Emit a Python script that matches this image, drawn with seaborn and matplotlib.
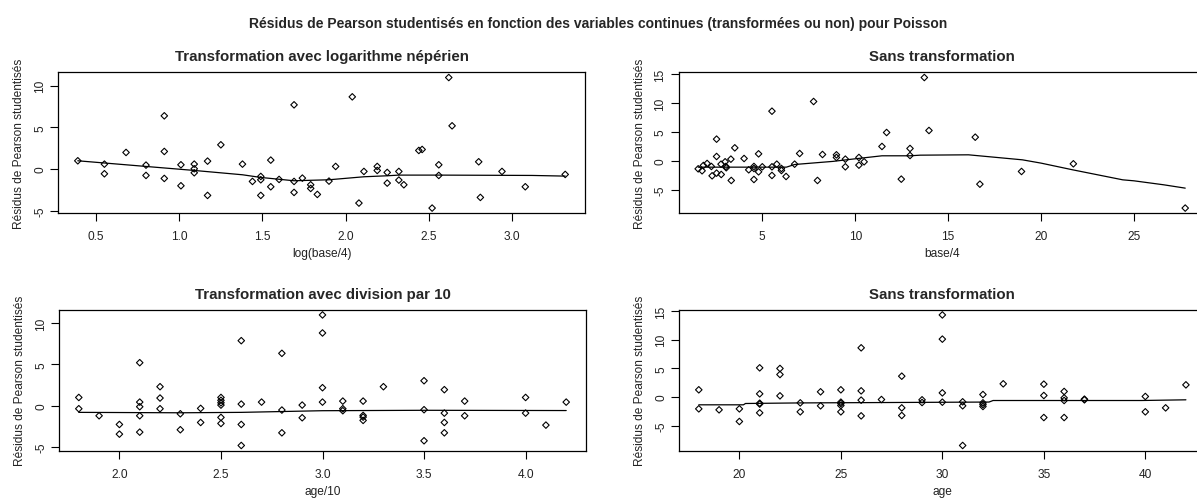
import numpy as np
import pandas as pd
import matplotlib
matplotlib.use("Agg")
import matplotlib.pyplot as plt
import seaborn as sns

# ---------------- data ----------------
# Panel 1 : log(base/4)
x1 = [0.39, 0.55, 0.55, 0.68, 0.80, 0.80, 0.91, 0.91, 0.91, 1.01, 1.01, 1.09, 1.09, 1.09,
      1.17, 1.17, 1.25, 1.38, 1.44, 1.49, 1.49, 1.49, 1.55, 1.55, 1.60, 1.69, 1.69, 1.69,
      1.74, 1.79, 1.79, 1.83, 1.90, 1.94, 2.04, 2.08, 2.11, 2.19, 2.19, 2.25, 2.25, 2.32,
      2.32, 2.35, 2.44, 2.46, 2.52, 2.56, 2.56, 2.62, 2.64, 2.80, 2.81, 2.94, 3.08, 3.32]
y1 = [1.0, 0.6, -0.56, 2.0, 0.48, -0.76, 6.4, 2.12, -1.12, 0.52, -2.0, 0.6, 0.04, -0.44,
      0.96, -3.16, 2.92, 0.6, -1.48, -0.88, -1.28, -3.16, 1.08, -2.12, -1.24, 7.72, -1.48, -2.8,
      -1.08, -1.88, -2.32, -3.04, -1.44, 0.32, 8.68, -4.08, -0.28, 0.32, -0.16, -0.4, -1.68, -0.28,
      -1.32, -1.88, 2.24, 2.36, -4.68, 0.52, -0.76, 11.0, 5.2, 0.88, -3.4, -0.28, -2.12, -0.64]
s1x = [0.39, 0.80, 1.09, 1.38, 1.49, 1.69, 1.90, 2.11, 2.25, 2.32, 2.56, 3.12, 3.32]
s1y = [1.0, 0.32, -0.16, -0.68, -1.0, -1.4, -1.28, -0.92, -0.8, -0.72, -0.72, -0.76, -0.84]

# Panel 2 : base/4
x2 = [1.55, 1.76, 1.83, 2.03, 2.26, 2.30, 2.54, 2.54, 2.54, 2.78, 2.79, 3.00, 3.04, 3.06,
      3.31, 3.33, 3.52, 4.02, 4.27, 4.55, 4.55, 4.55, 4.80, 4.80, 5.00, 5.52, 5.52, 5.52,
      5.78, 6.03, 6.03, 6.28, 6.74, 7.01, 7.76, 7.97, 8.24, 8.99, 8.99, 9.47, 9.47, 10.20,
      10.20, 10.48, 11.44, 11.69, 12.48, 12.95, 12.95, 13.72, 13.97, 16.46, 16.71, 18.95,
      21.74, 27.76]
y2 = [-1.39, -1.73, -0.81, -0.46, -0.98, -2.6, 3.76, 0.75, -2.14, -0.58, -2.37, -0.17, -0.98,
      -1.2, 0.29, -3.41, 2.25, 0.4, -1.56, -0.98, -1.33, -3.24, 1.21, -1.91, -1.04, 8.61, -1.04,
      -2.54, -0.58, -1.33, -1.68, -2.72, -0.58, 1.27, 10.29, -3.41, 1.1, 1.04, 0.58, 0.29, -1.04,
      0.58, -0.75, -0.17, 2.49, 4.91, -3.18, 2.14, 0.92, 14.45, 5.26, 4.1, -4.05, -1.85, -0.52,
      -8.2]
s2x = [1.55, 6.3, 6.74, 8.8, 10.0, 11.44, 12.95, 13.5, 16.1, 19.0, 20.0, 21.7, 22.6, 24.4,
       25.0, 26.6, 27.76]
s2y = [-1.1, -1.1, -0.64, -0.1, 0.35, 0.87, 0.87, 0.98, 1.04, 0.17, -0.4, -1.56, -2.14, -3.3,
       -3.47, -4.16, -4.74]

# Panel 3 : age/10
x3 = [1.8, 1.8, 1.9, 2.0, 2.0, 2.1, 2.1, 2.1, 2.1, 2.1, 2.2, 2.2, 2.2, 2.3, 2.3, 2.4, 2.4,
      2.5, 2.5, 2.5, 2.5, 2.5, 2.5, 2.6, 2.6, 2.6, 2.6, 2.7, 2.8, 2.8, 2.8, 2.9, 2.9, 3.0,
      3.0, 3.0, 3.0, 3.1, 3.1, 3.1, 3.2, 3.2, 3.2, 3.2, 3.3, 3.5, 3.5, 3.5, 3.6, 3.6, 3.6,
      3.6, 3.7, 3.7, 4.0, 4.0, 4.1, 4.2]
y3 = [1.0, -0.36, -1.21, -2.26, -3.43, 5.2, 0.44, -0.12, -1.21, -3.19, 2.3, 0.93, -0.36,
      -0.97, -2.9, -0.32, -2.02, 1.0, 0.65, 0.36, 0.08, -1.41, -2.14, 7.86, 0.2, -2.26, -4.8,
      0.44, 6.33, -0.52, -3.27, 0.08, -1.45, 10.97, 8.79, 2.18, 0.44, 0.56, -0.36, -0.6, 0.56,
      -1.17, -1.37, -1.77, 2.3, 3.02, -0.48, -4.23, 1.94, -0.89, -2.02, -3.27, 0.56, -1.21,
      1.0, -0.89, -2.34, 0.44]
s3x = [1.8, 2.3, 2.6, 2.8, 3.0, 3.5, 4.2]
s3y = [-0.8, -0.85, -0.8, -0.7, -0.6, -0.55, -0.58]

# Panel 4 : age
x4 = [18, 18, 19, 20, 20, 21, 21, 21, 21, 21, 22, 22, 22, 23, 23, 24, 24, 25, 25, 25, 25, 25,
      26, 26, 26, 26, 27, 28, 28, 28, 29, 29, 30, 30, 30, 30, 31, 31, 31, 32, 32, 32, 32, 33,
      35, 35, 35, 36, 36, 36, 36, 37, 37, 40, 40, 41, 42]
y4 = [1.28, -2.03, -2.2, -2.03, -4.23, 5.1, 0.58, -1.05, -1.2, -2.72, 4.99, 3.94, 0.23, -0.99,
      -2.55, 0.93, -1.5, 1.28, -0.87, -1.1, -1.45, -2.55, 8.58, 1.1, -0.52, -3.25, -0.41, 3.65,
      -1.86, -3.19, -0.46, -0.93, 14.3, 10.09, 0.75, -0.87, -0.81, -1.5, -8.4, 0.46, -0.99,
      -1.28, -1.62, 2.32, 2.26, 0.29, -3.54, 0.99, -0.12, -0.58, -3.54, -0.35, -0.46, 0.12,
      -2.55, -1.86, 2.14]
s4x = [18, 20.2, 20.3, 23, 32.3, 32.5, 39.8, 42]
s4y = [-1.33, -1.33, -1.1, -1.0, -0.85, -0.58, -0.58, -0.46]

suptitle = "Résidus de Pearson studentisés en fonction des variables continues (transformées ou non) pour Poisson"
titles = ["Transformation avec logarithme népérien", "Sans transformation",
          "Transformation avec division par 10", "Sans transformation"]
xlabels = ["log(base/4)", "base/4", "age/10", "age"]
ylabel = "Résidus de Pearson studentisés"
xticks = [[0.5, 1.0, 1.5, 2.0, 2.5, 3.0], [5, 10, 15, 20, 25],
          [2.0, 2.5, 3.0, 3.5, 4.0], [20, 25, 30, 35, 40]]
xtick_labels = [["0.5", "1.0", "1.5", "2.0", "2.5", "3.0"], ["5", "10", "15", "20", "25"],
                ["2.0", "2.5", "3.0", "3.5", "4.0"], ["20", "25", "30", "35", "40"]]
yticks = [[-5, 0, 5, 10], [-5, 0, 5, 10, 15], [-5, 0, 5, 10], [-5, 0, 5, 10, 15]]

# ---------------- figure ----------------
sns.set_style("white")
plt.rcParams["font.family"] = ["Liberation Sans", "DejaVu Sans"]

W, H = 1197, 502
fig = plt.figure(figsize=(W / 100, H / 100), dpi=100)
fig.patch.set_facecolor("white")

# axes boxes in pixels: left, top, right, bottom
boxes = [(58.3, 73.3, 584.7, 214.3), (678.7, 73.3, 1204.7, 214.3),
         (59.3, 310.7, 585.7, 451.7), (679.3, 310.7, 1205.4, 451.7)]

panels = [(x1, y1, s1x, s1y), (x2, y2, s2x, s2y), (x3, y3, s3x, s3y), (x4, y4, s4x, s4y)]

for i, ((xs, ys, sx, sy), (l, t, r, b)) in enumerate(zip(panels, boxes)):
    ax = fig.add_axes([l / W, 1 - b / H, (r - l) / W, (b - t) / H])
    df = pd.DataFrame({"x": xs, "y": ys})
    sm = pd.DataFrame({"x": sx, "y": sy})
    sns.scatterplot(data=df, x="x", y="y", ax=ax, marker="D", s=11,
                    facecolors="none", edgecolor="black", linewidth=0.8, zorder=3)
    sns.lineplot(data=sm, x="x", y="y", ax=ax, color="black", linewidth=0.9,
                 estimator=None, sort=False, zorder=2)
    # R-like 4% axis extension
    xr = max(xs) - min(xs)
    yr = max(ys) - min(ys)
    ax.set_xlim(min(xs) - 0.04 * xr, max(xs) + 0.04 * xr)
    ax.set_ylim(min(ys) - 0.04 * yr, max(ys) + 0.04 * yr)
    ax.set_xticks(xticks[i])
    ax.set_xticklabels(xtick_labels[i])
    ax.set_yticks(yticks[i])
    ax.set_yticklabels([str(v) for v in yticks[i]], rotation=90, va="center")
    ax.tick_params(axis="both", direction="out", length=5.8, width=0.8, color="black",
                   labelsize=8.6, labelcolor="#222222", left=True, bottom=True)
    ax.tick_params(axis="x", pad=6.5)
    ax.tick_params(axis="y", pad=3.0)
    for sp in ax.spines.values():
        sp.set_visible(True)
        sp.set_color("black")
        sp.set_linewidth(0.9)
    ax.set_xlabel(xlabels[i], fontsize=8.6, color="#222222")
    ax.set_ylabel(ylabel, fontsize=8.6, color="#222222")
    hpx = b - t
    wpx = r - l
    ax.xaxis.set_label_coords(0.5, -34 / hpx)
    ax.yaxis.set_label_coords(-33 / wpx, 0.5)
    ax.set_title(titles[i], fontsize=10.8, fontweight="bold", pad=8.5)
    ax.grid(False)

fig.text(598 / W, 1 - 28 / H, suptitle, ha="center", va="baseline",
         fontsize=10.0, fontweight="bold")

fig.savefig("out.png", dpi=100, facecolor="white")
